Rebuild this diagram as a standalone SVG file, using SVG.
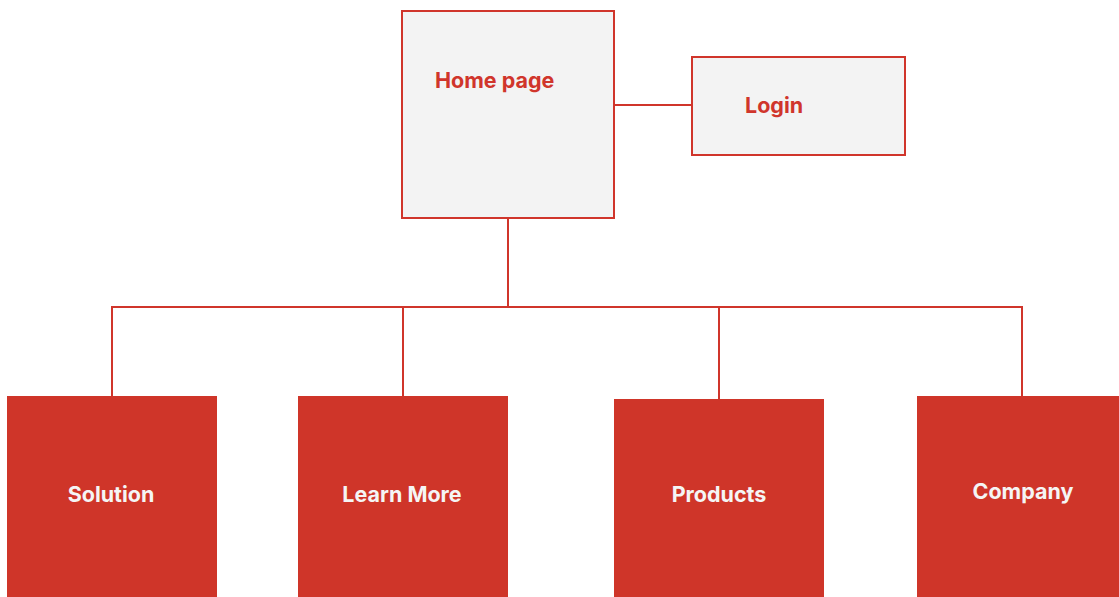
<svg xmlns="http://www.w3.org/2000/svg" width="1119" height="597" viewBox="0 0 1119 597">
<style>
.light{fill:#f3f3f3;stroke:#d0352b;stroke-width:2}
.dark{fill:#cf3529}
.conn{fill:none;stroke:#d0352b;stroke-width:2}
.t{font-family:Inter,"Open Sans","Liberation Sans",sans-serif;font-weight:700;font-size:21.5px}
.tr{fill:#d0352b}
.tw{fill:#f5f5f5;text-anchor:middle}
</style>
<rect width="1119" height="597" fill="#ffffff"/>
<g id="connectors">
<line class="conn" x1="614" y1="105" x2="692" y2="105"/>
<line class="conn" x1="508" y1="218" x2="508" y2="307"/>
<polyline class="conn" points="112,396 112,307 1022,307 1022,396"/>
<line class="conn" x1="403" y1="307" x2="403" y2="396"/>
<line class="conn" x1="719" y1="307" x2="719" y2="399"/>
</g>
<g id="home">
<rect class="light" x="402" y="11" width="212" height="207"/>
<text class="t tr" x="435" y="88">Home page</text>
</g>
<g id="login">
<rect class="light" x="692" y="57" width="213" height="98"/>
<text class="t tr" x="745" y="113">Login</text>
</g>
<g id="solution">
<rect class="dark" x="7" y="396" width="210" height="201"/>
<text class="t tw" x="111" y="502">Solution</text>
</g>
<g id="learnmore">
<rect class="dark" x="298" y="396" width="210" height="201"/>
<text class="t tw" x="402" y="502">Learn More</text>
</g>
<g id="products">
<rect class="dark" x="614" y="399" width="210" height="198"/>
<text class="t tw" x="719" y="502">Products</text>
</g>
<g id="company">
<rect class="dark" x="917" y="396" width="202" height="201"/>
<text class="t tw" x="1023" y="499">Company</text>
</g>
</svg>
